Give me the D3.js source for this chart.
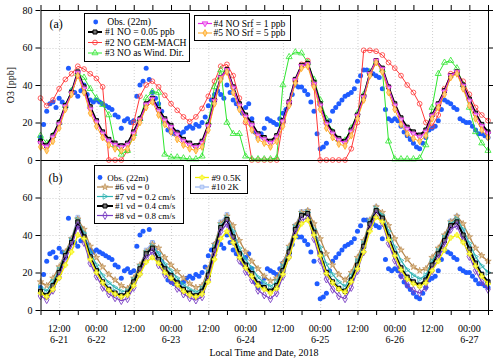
<!DOCTYPE html>
<html><head><meta charset="utf-8">
<script src="https://cdn.jsdelivr.net/npm/d3@7"></script>
<style>body{margin:0;background:#fff}svg{display:block;font-family:"Liberation Serif","Times New Roman",serif}</style>
</head><body><svg id="c" width="500" height="361"></svg>
<script>
// hours since 2018-06-21 06:00 local
const modelHours = [0,2,4,6,8,10,12,14,16,18,20,22,24,26,28,30,32,34,36,38,40,42,44,46,48,50,52,54,56,58,60,62,64,66,68,70,72,74,76,78,80,82,84,86,88,90,92,94,96,98,100,102,104,106,108,110,112,114,116,118,120,122,124,126,128,130,132,134,136,138,140,142,144];
const obsHours = [0,1,2,3,4,5,6,7,8,9,10,11,12,13,14,15,16,17,18,19,20,21,22,23,24,25,26,27,28,29,30,31,32,33,34,35,36,37,38,39,40,41,42,43,44,45,46,47,48,49,50,51,52,53,54,55,56,57,58,59,60,61,62,63,64,65,66,67,68,69,70,71,72,73,74,75,76,77,78,79,80,81,82,83,84,85,86,87,88,89,90,91,92,93,94,95,96,97,98,99,100,101,102,103,104,105,106,107,108,109,110,111,112,113,114,115,116,117,118,119,120,121,122,123,124,125,126,127,128,129,130,131,132,133,134,135,136,137,138,139,140,141,142,143,144];
const obs = [
12,19,26,30,31,28,33,31,28,49,37,36,
34,37,40,35,32,31,32,31,30,29,28,27,
24,23,17,21,22,20,21,34,40,42,49,43,
36,33,30,26,20,16,15,14,15,14,15,17,
18,17,19,18,20,23,29,32,35,37,35,33,
40,36,32,30,28,25,28,30,22,15,12,14,
17,22,21,20,19,22,25,27,30,35,40,39,
39,37,35,31,26,14,6,7,9,21,26,28,
30,32,34,35,36,38,42,45,48,48,47,46,
45,44,38,27,22,21,22,21,18,15,13,11,
9,7,6,9,12,16,17,18,21,27,32,31,
30,28,27,22,21,20,20,18,16,14,14,13,
12];
// Panel (a)
const run1 = [10,7.6,13,20,29,36,47,39,28.4,21,15,11,9,7.6,9,15,22,30,33,27,22,18.5,14.5,11,9,7.6,10,18.7,32,44,48.3,39,30,24,19.5,14,12,10,13,21,31,43,50.5,51.5,41.5,30,20,15,11.5,10,16,24,34,46,53,49,39,30,22.5,17.5,15,13.3,16,24,30,37,45,47,40,32.5,25,19,15];
const run2 = [33,29,32,38,43,46,50,48.5,46,43.5,39,0,0,0,5,20,34,40,42,39,34.5,30,26.5,23,20.5,23,27.5,34,42,50,51,45,33,20,0,0,0,0,0,20,30,42,51,53,40,0,0,0,0,0,6,20,58.5,58.5,58,56,52,49,45,40,36,30,20,18,24,38,46,47,42,35,28,24,21];
const run3 = [13,9,13,20,29,37,46,44,38,33,29.5,24,8,3,5,14,22,33,36.5,36,3,1.5,1.5,1,0.5,0.5,2,20,39,48,20,14,14,2,0.5,0.5,0.5,0.5,1,40,55,57.5,57,52,43,32,22,15,11,10.5,17,25,35,47,52,48,10,0.5,0.5,0.5,0.5,1,8,28,46,52,53,49,40,28,15,9,5];
const run4 = [9,7,12,19,28.5,35.5,46.5,38,27,20,14,10,8,6.8,8,14,21.5,29.5,32.5,26,21,17.5,13.5,10,8,6.8,9,18,31.5,44,48,38.5,29,23,18.5,13,11,9,12,20.5,30.5,42.5,50,51,40.5,29,19,14,10.5,9,15,23.5,33.5,46,53,48.5,38.5,29,21.5,16.5,14,12.3,15,23.5,29.5,36.5,45,47,39.5,31.5,24,18,14];
const run5 = [7,5,10,17,27,35,45,36,25,18,12,8,6,5,6,12,20,28,31,24,19,15,11,8,6,5,7,16,30,43,47,36,27,21,16,11,9,7,10,18,29,41,49,50,39,27,17,12,8.5,7.5,13,22,32,45,52,47,36,27,19,14,11.5,10,13,22,28,35,44,46,38,29,22,16,12];
// Panel (b)
const run6 = [15,13,17,23,31,38,48.5,43,34,28,23,19,16,13,11.5,17,24,31,35,33,28,24,20.5,17,14,12,13,22,35,46,50,45,37,31,26,22,18,15.5,17,25,34,45,52,53,46,38,30,24,19,16,20,28,37,48,55,52,45,38,32,27,23,21,22,28,33,40,47,50,46,39,33,29,26];
const run7 = [12,10,15,21.5,30,37,48,41,31,24,18.5,14.5,12,10,10,16,23,30.5,34,30,24.5,21,17,13.5,11,9.5,11.5,20,33.5,45,49,42,33,27,22.5,17.5,14.5,12.5,15,23,32.5,44,51,52,43,33.5,24.5,19,15,12.5,18,26,35.5,47,54,50.5,42,33.5,26.5,21.5,18.5,16.5,18.5,26,31.5,38.5,46,48.5,43,35.5,28.5,23.5,20];
const run8 = [7.5,5.5,10.5,17.5,27,34,45,36,25,18,12,8.5,6.5,5,6,12,19.5,27.5,31,24,19,15.5,11.5,8.5,6.5,5.3,7,16,29.5,42,46,36.5,26.5,20.5,16,10.5,8,6,9,18,28.5,40.5,48,49,38,26.5,16.5,11,7.5,6,12,21,31,43.5,51,46.5,35.5,26.5,18.5,13.5,10.5,9,12,21,27.5,34.5,43,45,37,28.5,21,15,11];
const run9 = [9,7,11,17,24,31,40,38,27,20,14.5,10.5,8.5,7,8,13,19,25.5,28,25,20,17,13.5,10,8,7,8.5,15,27,38,42,36,28,22.5,18,13,11,9,11.5,19,28,39,46,48,40,29,19.5,14.5,11,9.5,15,22,31,42,49.5,47,37.5,29,21.5,16.5,14,12.5,14.5,21,26,32,38.5,40,36,30,23.5,18,14];
const run10 = [10.5,8,13.5,21,30.5,38,49.5,40.5,29,21.5,15.5,11.5,9.5,8,9.5,16,23.5,32,36,30,23,19,15,11.5,9.5,8,10.5,20,34,47,51,41,31,24.5,20,14.5,12.5,10.5,13.5,22,32.5,45,52.5,53,42,30.5,20.5,15.5,12,10.5,16.5,25,35.5,48,55,50,39.5,30.5,23,18,15.5,13.8,17,25.5,32,39.5,47.5,50,42,33.5,25.5,19.5,15.5];

const minorTickHours = [0,6,12,18,24,30,36,42,48,54,60,66,72,78,84,90,96,102,108,114,120,126,132,138,144];
const gridHours = [6,18,30,42,54,66,78,90,102,114,126,138];
const xTickHours = [6,18,30,42,54,66,78,90,102,114,126,138];
const xTickTime = ["12:00","00:00","12:00","00:00","12:00","00:00","12:00","00:00","12:00","00:00","12:00","00:00"];
const xTickDate = ["6-21","6-22","","6-23","","6-24","","6-25","","6-26","","6-27"];
const yTicksA = [0,20,40,60,80];
const yTicksB = [0,20,40,60];
const gridY = [20,40,60];

const svg = d3.select("#c");
const X0 = 40.5, X1 = 488;
const x = d3.scaleLinear().domain([0,144]).range([X0,X1]);
const ya = d3.scaleLinear().domain([0,80]).range([160,10]);
const yb = d3.scaleLinear().domain([0,80]).range([310,160]);

function grid(y, top, bottom){
  const g = svg.append("g").attr("stroke","#cfcfcf").attr("stroke-width",1).attr("stroke-dasharray","1,2");
  g.selectAll(null).data(gridHours).join("line")
    .attr("x1",d=>x(d)+0.5).attr("x2",d=>x(d)+0.5).attr("y1",top).attr("y2",bottom);
  g.selectAll(null).data(gridY).join("line")
    .attr("x1",X0).attr("x2",X1).attr("y1",d=>Math.round(y(d))+0.5).attr("y2",d=>Math.round(y(d))+0.5);
}
grid(ya,10,160);
grid(yb,160,310);

const triRight = "M2.8,0L-1.9,2.7L-1.9,-2.7Z";
function sym(st){
  if(st.type==="triRight") return triRight;
  return d3.symbol(st.type, st.size)();
}
function drawSeries(y, vals, st){
  const g = svg.append("g");
  const line = d3.line().x((d,i)=>x(modelHours[i])).y(d=>y(d));
  g.append("path").datum(vals).attr("d",line).attr("fill","none")
    .attr("stroke",st.color).attr("stroke-width",st.lw).attr("stroke-linejoin","round");
  g.selectAll(null).data(vals).join("path")
    .attr("transform",(d,i)=>`translate(${x(modelHours[i])},${y(d)}) rotate(${st.rot||0})`)
    .attr("d",sym(st)).attr("fill",st.fill).attr("stroke",st.mstroke||st.color).attr("stroke-width",st.mw||0.8);
}
function drawObs(y){
  svg.append("g").selectAll(null).data(obs).join("circle")
    .attr("cx",(d,i)=>x(obsHours[i])).attr("cy",d=>y(d)).attr("r",2.5).attr("fill","#1f5cff");
}

const S = {
  r1:{color:"#000",lw:2,type:d3.symbolSquare,size:16,fill:"#777",mstroke:"#000",mw:1},
  r2:{color:"#ff3a3a",lw:1,type:d3.symbolCircle,size:18,fill:"none",mw:0.8},
  r3:{color:"#2ee62e",lw:1,type:d3.symbolTriangle,size:16,fill:"none",mw:0.8},
  r4:{color:"#e62ee6",lw:1.2,type:d3.symbolTriangle,size:14,fill:"#f3a6f3",rot:180,mw:0.8},
  r5:{color:"#ffa41c",lw:1,type:d3.symbolDiamond,size:14,fill:"#ffd080",mw:0.8},
  r6:{color:"#b5854a",lw:1.2,type:d3.symbolStar,size:13,fill:"#e0c090",mw:0.6},
  r7:{color:"#2fb3b3",lw:1.2,type:"triRight",fill:"none",mw:0.8},
  r8:{color:"#7a3fc4",lw:1.2,type:d3.symbolDiamond,size:18,fill:"none",mw:0.9},
  r9:{color:"#f2ee00",lw:1.3,type:d3.symbolCross,size:13,fill:"#ffff60",mw:0.6},
  r10:{color:"#9db9f2",lw:1.3,type:d3.symbolSquare,size:14,fill:"#c8d8fa",mw:0.8}
};

// Panel (a)
drawObs(ya);
drawSeries(ya, run2, S.r2);
drawSeries(ya, run3, S.r3);
drawSeries(ya, run1, S.r1);
drawSeries(ya, run4, S.r4);
drawSeries(ya, run5, S.r5);
// Panel (b)
drawObs(yb);
drawSeries(yb, run10, S.r10);
drawSeries(yb, run6, S.r6);
drawSeries(yb, run7, S.r7);
drawSeries(yb, run1, S.r1);
drawSeries(yb, run8, S.r8);
drawSeries(yb, run9, S.r9);

// Axes
function styleAxis(g){ g.selectAll("path,line").attr("stroke","#000").attr("stroke-width",1); g.selectAll("text").attr("font-size",10).attr("fill","#000").attr("font-family","Liberation Serif"); }
svg.append("g").attr("transform",`translate(${X0},0)`).call(d3.axisLeft(ya).tickValues(yTicksA).tickSize(5).tickSizeOuter(0).tickPadding(3)).call(styleAxis);
svg.append("g").attr("transform",`translate(${X0},0)`).call(d3.axisLeft(yb).tickValues(yTicksB).tickSize(5).tickSizeOuter(0).tickPadding(3)).call(styleAxis);
svg.append("g").attr("transform",`translate(${X1},0)`).call(d3.axisRight(ya).tickValues(yTicksA).tickSize(5).tickSizeOuter(0).tickFormat("")).call(styleAxis);
svg.append("g").attr("transform",`translate(${X1},0)`).call(d3.axisRight(yb).tickValues(yTicksB).tickSize(5).tickSizeOuter(0).tickFormat("")).call(styleAxis);
svg.append("g").attr("transform",`translate(0,10)`).call(d3.axisTop(x).tickValues(minorTickHours).tickSize(5).tickSizeOuter(0).tickFormat("")).call(styleAxis);
svg.append("g").attr("transform",`translate(0,160)`).call(d3.axisBottom(x).tickValues([]).tickSizeOuter(0)).call(styleAxis);
svg.append("g").attr("transform",`translate(0,310)`).call(d3.axisBottom(x).tickValues(minorTickHours).tickSize(5).tickSizeOuter(0).tickFormat("")).call(styleAxis);

const lab = svg.append("g").attr("font-size",10).attr("text-anchor","middle").attr("fill","#000");
lab.selectAll(null).data(xTickHours).join("text").attr("x",d=>x(d)).attr("y",331.5).text((d,i)=>xTickTime[i]);
lab.selectAll(null).data(xTickHours).join("text").attr("x",d=>x(d)).attr("y",343).text((d,i)=>xTickDate[i]);
svg.append("text").attr("x",264).attr("y",356).attr("text-anchor","middle").attr("font-size",10).text("Local Time and Date, 2018");
svg.append("text").attr("transform","translate(13.5,85) rotate(-90)").attr("text-anchor","middle").attr("font-size",10).text("O3 [ppb]");
svg.append("text").attr("x",49.5).attr("y",27.5).attr("font-size",12).text("(a)");
svg.append("text").attr("x",48.5).attr("y",181.5).attr("font-size",12).text("(b)");

// Legends
function legend(box, entries, fs){
  const g = svg.append("g");
  g.append("rect").attr("x",box.x+0.5).attr("y",box.y+0.5).attr("width",box.w).attr("height",box.h)
    .attr("fill","#fff").attr("stroke","#000").attr("stroke-width",1);
  entries.forEach(e=>{
    if(e.obs){
      g.append("circle").attr("cx",e.mx).attr("cy",e.y).attr("r",2.4).attr("fill","#1f5cff");
    } else {
      g.append("line").attr("x1",e.x1).attr("x2",e.x2).attr("y1",e.y).attr("y2",e.y).attr("stroke",e.st.color).attr("stroke-width",e.st.lw);
      g.append("path").attr("transform",`translate(${(e.x1+e.x2)/2},${e.y}) rotate(${e.st.rot||0})`).attr("d",sym(e.st))
        .attr("fill",e.st.fill).attr("stroke",e.st.mstroke||e.st.color).attr("stroke-width",e.st.mw||0.8);
    }
    g.append("text").attr("x",e.tx).attr("y",e.y+3.2).attr("font-size",fs).attr("fill","#000").text(e.label);
  });
}
legend({x:84,y:13,w:105,h:48},[
  {obs:true,mx:95.7,y:22,tx:107.3,label:"Obs. (22m)"},
  {st:S.r1,x1:88,x2:102,y:32,tx:105,label:"#1 NO = 0.05 ppb"},
  {st:S.r2,x1:88,x2:102,y:42.5,tx:105,label:"#2 NO GEM-MACH"},
  {st:S.r3,x1:88,x2:102,y:53,tx:105,label:"#3 NO as Wind. Dir."}
],9.6);
legend({x:194,y:15,w:96,h:25},[
  {st:S.r4,x1:198,x2:212,y:23.5,tx:213.5,label:"#4 NO Srf = 1 ppb"},
  {st:S.r5,x1:198,x2:212,y:33,tx:213.5,label:"#5 NO Srf = 5 ppb"}
],9.6);
legend({x:94,y:165,w:89,h:58},[
  {obs:true,mx:100,y:177.5,tx:107.3,label:"Obs. (22m)"},
  {st:S.r6,x1:97,x2:113,y:187,tx:115,label:"#6 vd = 0"},
  {st:S.r7,x1:97,x2:113,y:196.5,tx:115,label:"#7 vd = 0.2 cm/s"},
  {st:S.r1,x1:97,x2:113,y:206,tx:115,label:"#1 vd = 0.4 cm/s"},
  {st:S.r8,x1:97,x2:113,y:215.5,tx:115,label:"#8 vd = 0.8 cm/s"}
],9);
legend({x:190,y:165,w:57,h:28},[
  {st:S.r9,x1:195,x2:209,y:177.5,tx:211.5,label:"#9 0.5K"},
  {st:S.r10,x1:195,x2:209,y:187,tx:211.5,label:"#10 2K"}
],9.2);
</script></body></html>
